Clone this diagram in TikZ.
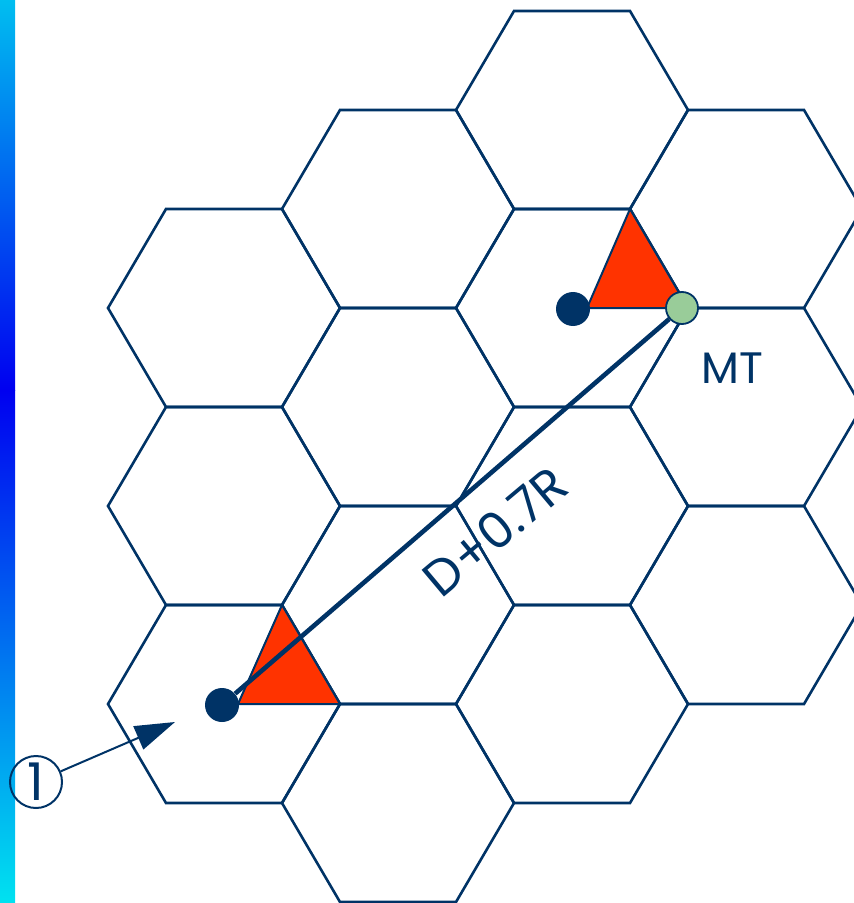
\documentclass[tikz,border=0pt]{standalone}
\usepackage{fontspec}
\setmainfont{Poppins}
\usetikzlibrary{arrows.meta, positioning}
\definecolor{navy}{HTML}{003366}
\definecolor{sigred}{HTML}{FF3300}
\definecolor{mtgreen}{HTML}{99CC99}
\definecolor{bartop}{HTML}{00BEF0}
\definecolor{barmid}{HTML}{0000F0}
\definecolor{barbot}{HTML}{00E2F0}

\begin{document}
\begin{tikzpicture}[x=0.5pt,y=-0.5pt,
    hexcell/.style={draw=navy, line width=1.3pt},
    sector/.style={fill=sigred, draw=navy, line width=1pt, line join=round},
    bsdot/.style={circle, fill=navy, minimum size=17pt, inner sep=0pt},
    mtdot/.style={circle, fill=mtgreen, draw=navy, line width=0.9pt, minimum size=16pt, inner sep=0pt},
    txt/.style={text=navy, font=\fontsize{22}{24}\selectfont}]
  \useasboundingbox (0,0) rectangle (854,903);
  \clip (0,0) rectangle (854,903);
  % side bar
  \shade[top color=bartop, bottom color=barmid] (0,0) rectangle (15,390);
  \shade[top color=barmid, bottom color=barbot] (0,390) rectangle (15,903);
  % cells
  \foreach \cx/\cy in {224/308, 224/506, 224/704,
                       398/209, 398/407, 398/605, 398/803,
                       572/110, 572/308, 572/506, 572/704,
                       746/209, 746/407, 746/605}
    \draw[hexcell] (\cx-116,\cy) -- ++(58,-99) -- ++(116,0) -- ++(58,99)
      -- ++(-58,99) -- ++(-116,0) -- cycle;
  % sectors
  \draw[sector] (630,209) -- (688,308) -- (587,308) -- cycle;
  \draw[sector] (282,605) -- (340,704) -- (238,704) -- cycle;
  % stations
  \node[bsdot] (bs1) at (573,309) {};
  \node[bsdot] (bs2) at (222,705) {};
  \node[mtdot] (mt) at (682,308) {};
  \draw[navy, line width=2.3pt] (bs2) -- (mt);
  \node[txt] (mtlab) at (732,368) {MT};
  \node[txt, rotate=40, font=\fontsize{25}{27}\selectfont] (dist) at (495,531) {D+0.7R};
  % callout
  \node[circle, draw=navy, line width=1pt, minimum size=26pt, inner sep=0pt,
        text=navy, font=\fontsize{26}{28}\selectfont] (one) at (36,782) {1};
  \coordinate (tip) at (175,722);
  \draw[navy, line width=1pt, -{Triangle[length=20pt, width=12.5pt]}] (one) -- (tip);
\end{tikzpicture}
\end{document}
